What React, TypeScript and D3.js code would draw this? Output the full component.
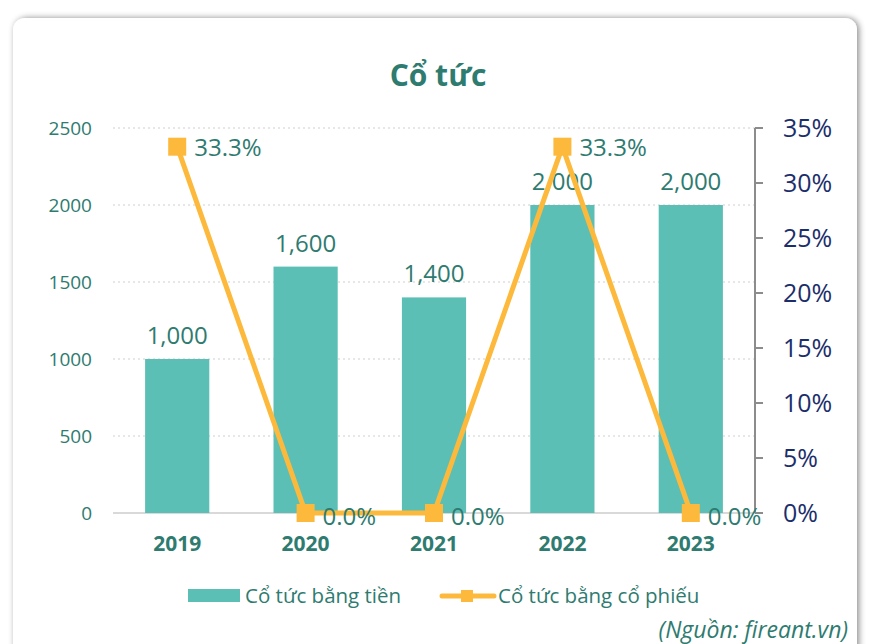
import React from "react";
import * as d3 from "d3";

const years = ["2019", "2020", "2021", "2022", "2023"];
const cashDividend = [1000, 1600, 1400, 2000, 2000];
const stockDividend = [33.3, 0, 0, 33.3, 0];
const leftTicks = [0, 500, 1000, 1500, 2000, 2500];
const rightTicks = [0, 5, 10, 15, 20, 25, 30, 35];

const W = 869;
const H = 644;
const teal = "#5BBFB5";
const orange = "#FDB93B";
const textTeal = "#2E7B70";
const navy = "#1B2E6B";
const font = "'Open Sans', 'Noto Sans', sans-serif";

const plot = { left: 113, right: 755, top: 128, bottom: 513 };

export default function App() {
  const x = d3
    .scaleBand<string>()
    .domain(years)
    .range([plot.left, plot.right])
    .paddingInner(0.5)
    .paddingOuter(0.25);
  const yL = d3.scaleLinear().domain([0, 2500]).range([plot.bottom, plot.top]);
  const yR = d3.scaleLinear().domain([0, 35]).range([plot.bottom, plot.top]);
  const cx = (y: string) => (x(y) as number) + x.bandwidth() / 2;

  const line = d3
    .line<number>()
    .x((_, i) => cx(years[i]))
    .y((d) => yR(d));

  return (
    <svg
      width={W}
      height={H}
      style={{ position: "absolute", left: 0, top: 0, fontFamily: font }}
    >
      <defs>
        <filter id="sh" x="-5%" y="-5%" width="110%" height="115%">
          <feDropShadow dx="2" dy="0" stdDeviation="3" floodColor="#000" floodOpacity="0.45" />
        </filter>
      </defs>
      <rect x={13} y={18} width={844} height={660} rx={12} fill="#fff" filter="url(#sh)" />

      <text x={438} y={86} textAnchor="middle" fontSize={30} fontWeight={700} fill={textTeal}>
        Cổ tức
      </text>

      {/* grid + left axis */}
      {leftTicks.map((t) => (
        <g key={t}>
          {t > 0 && (
            <line
              x1={plot.left}
              x2={plot.right}
              y1={yL(t)}
              y2={yL(t)}
              stroke="#cfcfcf"
              strokeDasharray="2 3"
            />
          )}
          <text x={92} y={yL(t) + 7} textAnchor="end" fontSize={19} fill={textTeal}>
            {t}
          </text>
        </g>
      ))}
      <line x1={plot.left} x2={plot.right} y1={plot.bottom} y2={plot.bottom} stroke="#d9d9d9" strokeWidth={2} />

      {/* right axis */}
      <line x1={plot.right} x2={plot.right} y1={plot.top} y2={plot.bottom} stroke="#8c8c8c" strokeWidth={2} />
      {rightTicks.map((t) => (
        <g key={t}>
          <line x1={plot.right} x2={plot.right + 8} y1={yR(t)} y2={yR(t)} stroke="#8c8c8c" strokeWidth={2} />
          <text x={783} y={yR(t) + 9} fontSize={25} fill={navy}>
            {t}%
          </text>
        </g>
      ))}

      {/* bars */}
      {cashDividend.map((v, i) => (
        <g key={years[i]}>
          <rect
            x={x(years[i])}
            y={yL(v)}
            width={x.bandwidth()}
            height={plot.bottom - yL(v)}
            fill={teal}
          />
          <text x={cx(years[i])} y={yL(v) - 15} textAnchor="middle" fontSize={24} fill={textTeal}>
            {d3.format(",")(v)}
          </text>
          <text x={cx(years[i])} y={551} textAnchor="middle" fontSize={21} fontWeight={700} fill={textTeal}>
            {years[i]}
          </text>
        </g>
      ))}

      {/* line */}
      <path d={line(stockDividend) || ""} fill="none" stroke={orange} strokeWidth={5} strokeLinejoin="round" />
      {stockDividend.map((v, i) => (
        <g key={"m" + i}>
          <rect x={cx(years[i]) - 9} y={yR(v) - 9} width={18} height={18} fill={orange} />
          <text x={cx(years[i]) + 17} y={yR(v) + (v > 0 ? 9 : 12)} fontSize={24} fill={textTeal}>
            {v.toFixed(1)}%
          </text>
        </g>
      ))}

      {/* legend */}
      <rect x={188} y={589} width={52} height={13} fill={teal} />
      <text x={245} y={603} fontSize={20.5} fill={textTeal}>
        Cổ tức bằng tiền
      </text>
      <line x1={442} x2={494} y1={596} y2={596} stroke={orange} strokeWidth={5} strokeLinecap="round" />
      <rect x={461} y={590} width={12} height={12} fill={orange} />
      <text x={498} y={603} fontSize={20.5} fill={textTeal}>
        Cổ tức bằng cổ phiếu
      </text>

      <text x={848} y={638} textAnchor="end" fontSize={23} fontStyle="italic" fill={textTeal}>
        (Nguồn: fireant.vn)
      </text>
    </svg>
  );
}
